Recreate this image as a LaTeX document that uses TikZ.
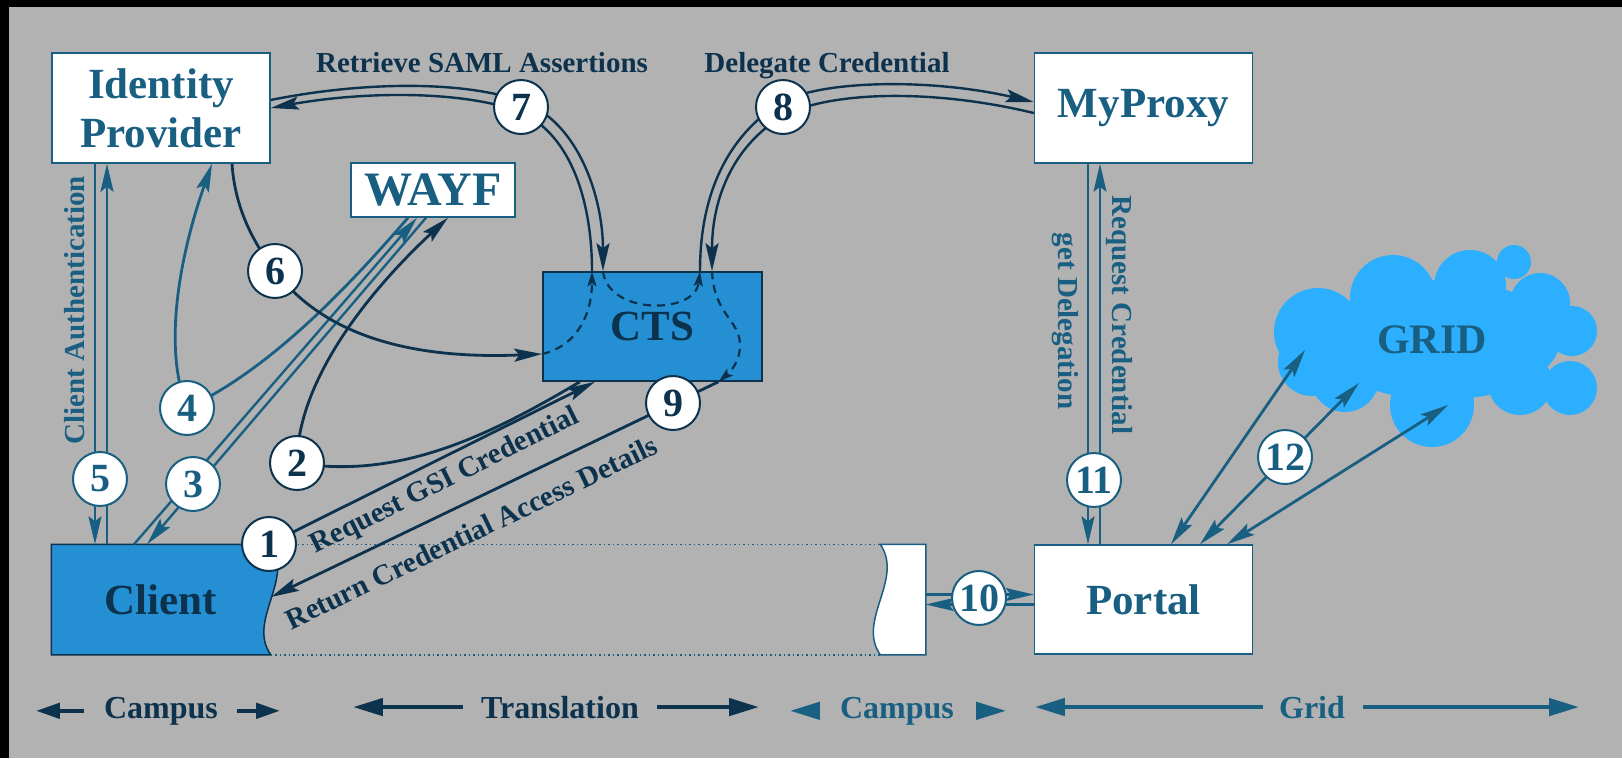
\documentclass[tikz,border=0pt]{standalone}
\usepackage{fontspec}
\setmainfont{Liberation Serif}
\usepackage{xcolor}
\usepackage{tikz}
\usetikzlibrary{arrows.meta, positioning, calc, backgrounds}

\definecolor{bggray}{RGB}{178,178,178}
\definecolor{navy}{RGB}{12,50,78}
\definecolor{midblue}{RGB}{25,95,130}
\definecolor{ctsblue}{RGB}{36,143,211}
\definecolor{cloudblue}{RGB}{45,175,255}

\newcommand{\boxfont}{\fontsize{43}{49}\selectfont\bfseries}
\newcommand{\numfont}{\fontsize{40}{44}\selectfont\bfseries}
\newcommand{\labfont}{\fontsize{29}{32}\selectfont\bfseries}
\newcommand{\legfont}{\fontsize{32}{36}\selectfont\bfseries}

\begin{document}
\begin{tikzpicture}[
    x=1pt, y=-1pt,
    >={Stealth[length=28pt, width=13pt, inset=5pt]},
    box/.style={rectangle, draw=midblue, fill=white, line width=1.5pt, text=midblue,
                minimum width=218pt, minimum height=110pt, align=center, font=\boxfont},
    bluebox/.style={box, draw=navy, fill=ctsblue, text=navy},
    num/.style={circle, fill=white, line width=2pt, minimum size=54pt, inner sep=0pt, font=\numfont},
    numd/.style={num, draw=navy, text=navy},
    numm/.style={num, draw=midblue, text=midblue},
    wire/.style={line width=2.8pt},
    flow/.style={wire, ->},
    pair/.style={line width=2.4pt},
    twoway/.style={wire, midblue, <->},
    dashflow/.style={line width=2.2pt, dash pattern=on 8pt off 6pt, -{Stealth[length=15pt, width=9pt, inset=3pt]}},
    lab/.style={font=\labfont, inner sep=0pt},
    legend/.style={font=\legfont, inner sep=0pt, anchor=base},
    legarrow/.style={line width=4.5pt, -{Triangle[length=30pt, width=17pt]}}
  ]
  % background
  \begin{scope}[on background layer]
    \fill[black] (0,0) rectangle (1622,758);
    \fill[bggray] (9,7) rectangle (1622,758);
  \end{scope}
  \useasboundingbox (0,0) rectangle (1622,758);

  % Boxes
  \node[box] (idp) at (161,108) {Identity\\Provider};
  \node[box, minimum width=164pt, minimum height=54pt,
        font=\fontsize{48}{52}\selectfont\bfseries] (wayf) at (433,190) {WAYF};
  \node[bluebox, minimum width=219pt, minimum height=109pt] (cts) at (652.5,326.5) {CTS};
  \node[box] (myproxy) at (1143.5,108) {MyProxy};
  \node[box, draw=none, fill=none, text=navy, minimum height=109pt] (client) at (161,599.5) {Client};
  \node[box, minimum height=109pt] (portal) at (1143.5,599.5) {Portal};
  \node[box, draw=none, fill=none, minimum width=44pt, minimum height=109pt] (gate) at (903,599.5) {};

  % wavy edges
  \begin{scope}[on background layer]
    \filldraw[draw=navy, fill=ctsblue, line width=1.5pt]
      (client.north west) -- (client.north east)
      .. controls +(24,35) and +(-24,-34) .. (client.south east)
      -- (client.south west) -- cycle;
    \filldraw[draw=midblue, fill=white, line width=1.5pt]
      (gate.north west) .. controls +(24,35) and +(-24,-34) .. (gate.south west)
      -- (gate.south east) -- (gate.north east) -- cycle;
  \end{scope}
  \draw[midblue, line width=1.5pt, dash pattern=on 1.5pt off 3pt]
    (client.north east) -- (gate.north west)
    (client.south east) -- (gate.south west);

  % Grid cloud
  \fill[cloudblue] (1318,332) circle[radius=44pt] (1393,298) circle[radius=43pt]
    (1470,286) circle[radius=36pt] (1514,262) circle[radius=17pt]
    (1540,303) circle[radius=30pt] (1572,331) circle[radius=25pt]
    (1570,388) circle[radius=27pt] (1520,383) circle[radius=32pt]
    (1432,405) circle[radius=42pt] (1345,378) circle[radius=34pt]
    (1312,362) circle[radius=34pt]
    (1440,340) ellipse[x radius=120pt, y radius=60pt];
  \node[font=\fontsize{42}{46}\selectfont\bfseries, text=midblue] (grid) at (1432,340) {GRID};
  \coordinate (g1) at (1305,350);
  \coordinate (g2) at (1359,383);
  \coordinate (g3) at (1448,405);

  % Step positions
  \coordinate (c1) at (269,544);
  \coordinate (c2) at (297,463);
  \coordinate (c3) at (193,484);
  \coordinate (c4) at (187,408);
  \coordinate (c5) at (100,479);
  \coordinate (c6) at (275,271);
  \coordinate (c7) at (521,107);
  \coordinate (c8) at (783,107);
  \coordinate (c9) at (673,403);
  \coordinate (c10) at (979,598);
  \coordinate (c11) at (1094,480);
  \coordinate (c12) at (1285,457);
  \coordinate (dock) at (271,597);

  % 1 and 9
  \draw[flow, navy] (c1) -- ([xshift=-57.5pt]cts.south)
    node[lab, text=navy, sloped, below=8pt, pos=0.51] {Request GSI Credential};
  \draw[flow, navy] ([xshift=66pt]cts.south) -- (dock)
    node[lab, text=navy, sloped, below=17pt, pos=0.58] {Return Credential Access Details};

  % 2
  \draw[wire, navy] ([xshift=-72.5pt]cts.south) .. controls (490,435) and (400,480) .. (c2);
  \draw[flow, navy] (c2) .. controls (297,380) and (370,290) .. ([xshift=15pt]wayf.south);

  % 3
  \draw[pair, midblue, ->] ([xshift=-27pt]client.north) -- ([xshift=-16pt]wayf.south);
  \draw[pair, midblue, ->] ([xshift=-7pt]wayf.south) -- ([xshift=-14pt]client.north);

  % 4
  \draw[wire, midblue] ([xshift=-25pt]wayf.south) .. controls (350,285) and (270,370) .. (c4);
  \draw[flow, midblue] (c4) .. controls (160,340) and (185,240) .. ([xshift=51pt]idp.south);

  % 5
  \draw[pair, midblue, ->] ([xshift=-66pt]idp.south) -- ([xshift=-66pt]client.north);
  \draw[pair, midblue, ->] ([xshift=-54pt]client.north) -- ([xshift=-54pt]idp.south);
  \node[lab, text=midblue, rotate=90] (authlbl) at (75,310) {Client Authentication};

  % 6
  \draw[wire, navy] ([xshift=71pt]idp.south) .. controls (235,210) and (255,245) .. (c6);
  \draw[flow, navy] (c6) .. controls (320,330) and (400,360) .. ([yshift=-27.5pt]cts.west);

  % 7
  \draw[pair, navy, ->] ([yshift=8pt]idp.east) .. controls (360,82) and (460,80) .. ($(c7)+(0,-6)$)
    .. controls (580,122) and (603,200) .. ([xshift=-49.5pt]cts.north);
  \draw[pair, navy, ->] ([xshift=-60.5pt]cts.north) .. controls (592,200) and (570,130) .. ($(c7)+(-6,3)$)
    .. controls (455,90) and (360,92) .. (idp.east);
  \node[lab, text=navy, anchor=base] (samllbl) at (482,72) {Retrieve SAML Assertions};

  % 8
  \draw[pair, navy, ->] ([xshift=47.5pt]cts.north) .. controls (700,190) and (730,135) .. ($(c8)+(-3,-4)$)
    .. controls (820,80) and (930,78) .. ([yshift=6pt]myproxy.west);
  \draw[pair, navy, ->] ([yshift=-5pt]myproxy.west) .. controls (930,88) and (830,92) .. ($(c8)+(2,8)$)
    .. controls (740,140) and (712,190) .. ([xshift=59.5pt]cts.north);
  \node[lab, text=navy, anchor=base] (deleglbl) at (827,72) {Delegate Credential};

  % paths inside CTS
  \draw[dashflow, navy] ([yshift=-27.5pt]cts.west) .. controls (580,345) and (592,310) .. ([xshift=-60.5pt]cts.north);
  \draw[dashflow, navy] ([xshift=-49.5pt]cts.north) .. controls (608,315) and (695,315) .. ([xshift=47.5pt]cts.north);
  \draw[dashflow, navy] ([xshift=59.5pt]cts.north) .. controls (714,315) and (740,320) .. (740,345)
    .. controls (740,362) and (730,372) .. ([xshift=66pt]cts.south);

  % 10
  \draw[pair, midblue, ->] ([yshift=5pt]gate.east) -- ([yshift=5pt]portal.west);
  \draw[pair, midblue, ->] ([yshift=-5pt]portal.west) -- ([yshift=-5pt]gate.east);

  % 11
  \draw[pair, midblue, ->] ([xshift=-55.5pt]myproxy.south) -- ([xshift=-55.5pt]portal.north);
  \draw[pair, midblue, ->] ([xshift=-43.5pt]portal.north) -- ([xshift=-43.5pt]myproxy.south);
  \node[lab, text=midblue, rotate=-90] (getdlbl) at (1065,321) {get Delegation};
  \node[lab, text=midblue, rotate=-90] (reqclbl) at (1119,315) {Request Credential};

  % 12
  \draw[twoway] ([xshift=27.5pt]portal.north) -- (g1);
  \draw[twoway] ([xshift=56.5pt]portal.north) -- (g2);
  \draw[twoway] ([xshift=83.5pt]portal.north) -- (g3);

  % Step numbers
  \node[numd] (n1) at (c1) {1};
  \node[numd] (n2) at (c2) {2};
  \node[numm] (n3) at (c3) {3};
  \node[numm] (n4) at (c4) {4};
  \node[numm] (n5) at (c5) {5};
  \node[numd] (n6) at (c6) {6};
  \node[numd] (n7) at (c7) {7};
  \node[numd] (n8) at (c8) {8};
  \node[numd] (n9) at (c9) {9};
  \node[numm] (n10) at (c10) {10};
  \node[numm] (n11) at (c11) {11};
  \node[numm] (n12) at (c12) {12};

  % Legend
  \node[legend, text=navy] (campusA) at (161,718) {Campus};
  \node[legend, text=navy] (transl) at (560,718) {Translation};
  \node[legend, text=midblue] (campusB) at (897,718) {Campus};
  \node[legend, text=midblue] (gridlbl) at (1312,718) {Grid};
  \draw[legarrow, navy, -{Triangle[length=24pt, width=15pt]}] ([xshift=-20pt]campusA.west) -- ([xshift=-68pt]campusA.west);
  \draw[legarrow, navy, -{Triangle[length=24pt, width=15pt]}] ([xshift=19pt]campusA.east) -- ([xshift=62pt]campusA.east);
  \draw[legarrow, navy] ([xshift=-18pt]transl.west) -- ([xshift=-128pt]transl.west);
  \draw[legarrow, navy] ([xshift=18pt]transl.east) -- ([xshift=120pt]transl.east);
  \draw[legarrow, midblue] ([xshift=-20pt]campusB.west) -- ([xshift=-50pt]campusB.west);
  \draw[legarrow, midblue] ([xshift=22pt]campusB.east) -- ([xshift=52pt]campusB.east);
  \draw[legarrow, midblue] ([xshift=-16pt]gridlbl.west) -- ([xshift=-244pt]gridlbl.west);
  \draw[legarrow, midblue] ([xshift=18pt]gridlbl.east) -- ([xshift=234pt]gridlbl.east);
\end{tikzpicture}
\end{document}
